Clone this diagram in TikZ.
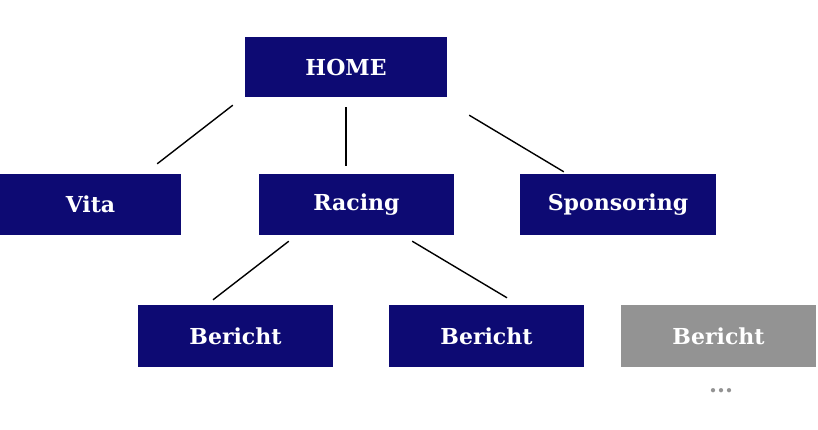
\documentclass[tikz,border=0pt]{standalone}
\usepackage{fontspec}
\setmainfont{DejaVu Serif}
\usetikzlibrary{positioning}
\usetikzlibrary{calc}
\definecolor{navy}{HTML}{0D0A73}
\definecolor{greybox}{HTML}{939393}
\tikzset{
  page/.style = {inner sep = 0pt, minimum height = 61pt, fill = navy, text = white, font = \bfseries\fontsize{22}{24}\selectfont},
  pagegrey/.style = {page, fill = greybox},
  link/.style = {line width = 1.4pt}
}

\begin{document}
\begin{tikzpicture}[x=1pt, y=-1pt]
		\useasboundingbox (0,0) rectangle (818,429);
		\draw (346,67) node[page, minimum width = 202pt, minimum height = 60pt] (home){HOME}
		(90.5,204.5) node[page, minimum width = 181pt] (vita) {Vita}
		(356.5,204.5) node[page, minimum width = 195pt] (racing) {Racing}
		(618,204.5) node[page, minimum width = 196pt] (sponsoring) {Sponsoring}
		(235.5,336) node[page, minimum width = 195pt, minimum height = 62pt] (bericht1) {Bericht}
		(486.5,336) node[page, minimum width = 195pt, minimum height = 62pt] (bericht2) {Bericht}
		(718.5,336) node[pagegrey, minimum width = 195pt, minimum height = 62pt] (bericht3) {Bericht}
		(721,391) node[text = greybox, font = \bfseries\fontsize{23}{25}\selectfont] (more) {...};
		
		\draw[link] ([xshift=-12pt, yshift=-8pt]home.south west) -- ([xshift=-24pt, yshift=10pt]vita.north east);
		\draw[link] ([yshift=-10pt]home.south) -- ([yshift=8pt]home.south |- racing.north);
		\draw[link] ([xshift=22pt, yshift=-18pt]home.south east) -- ([xshift=44pt, yshift=2pt]sponsoring.north west);
		\draw[link] ([xshift=30pt, yshift=-6pt]racing.south west) -- ([xshift=-22.5pt, yshift=5pt]bericht1.north);
		\draw[link] ([xshift=-42pt, yshift=-6pt]racing.south east) -- ([xshift=20.5pt, yshift=7pt]bericht2.north);
	\end{tikzpicture}
\end{document}
